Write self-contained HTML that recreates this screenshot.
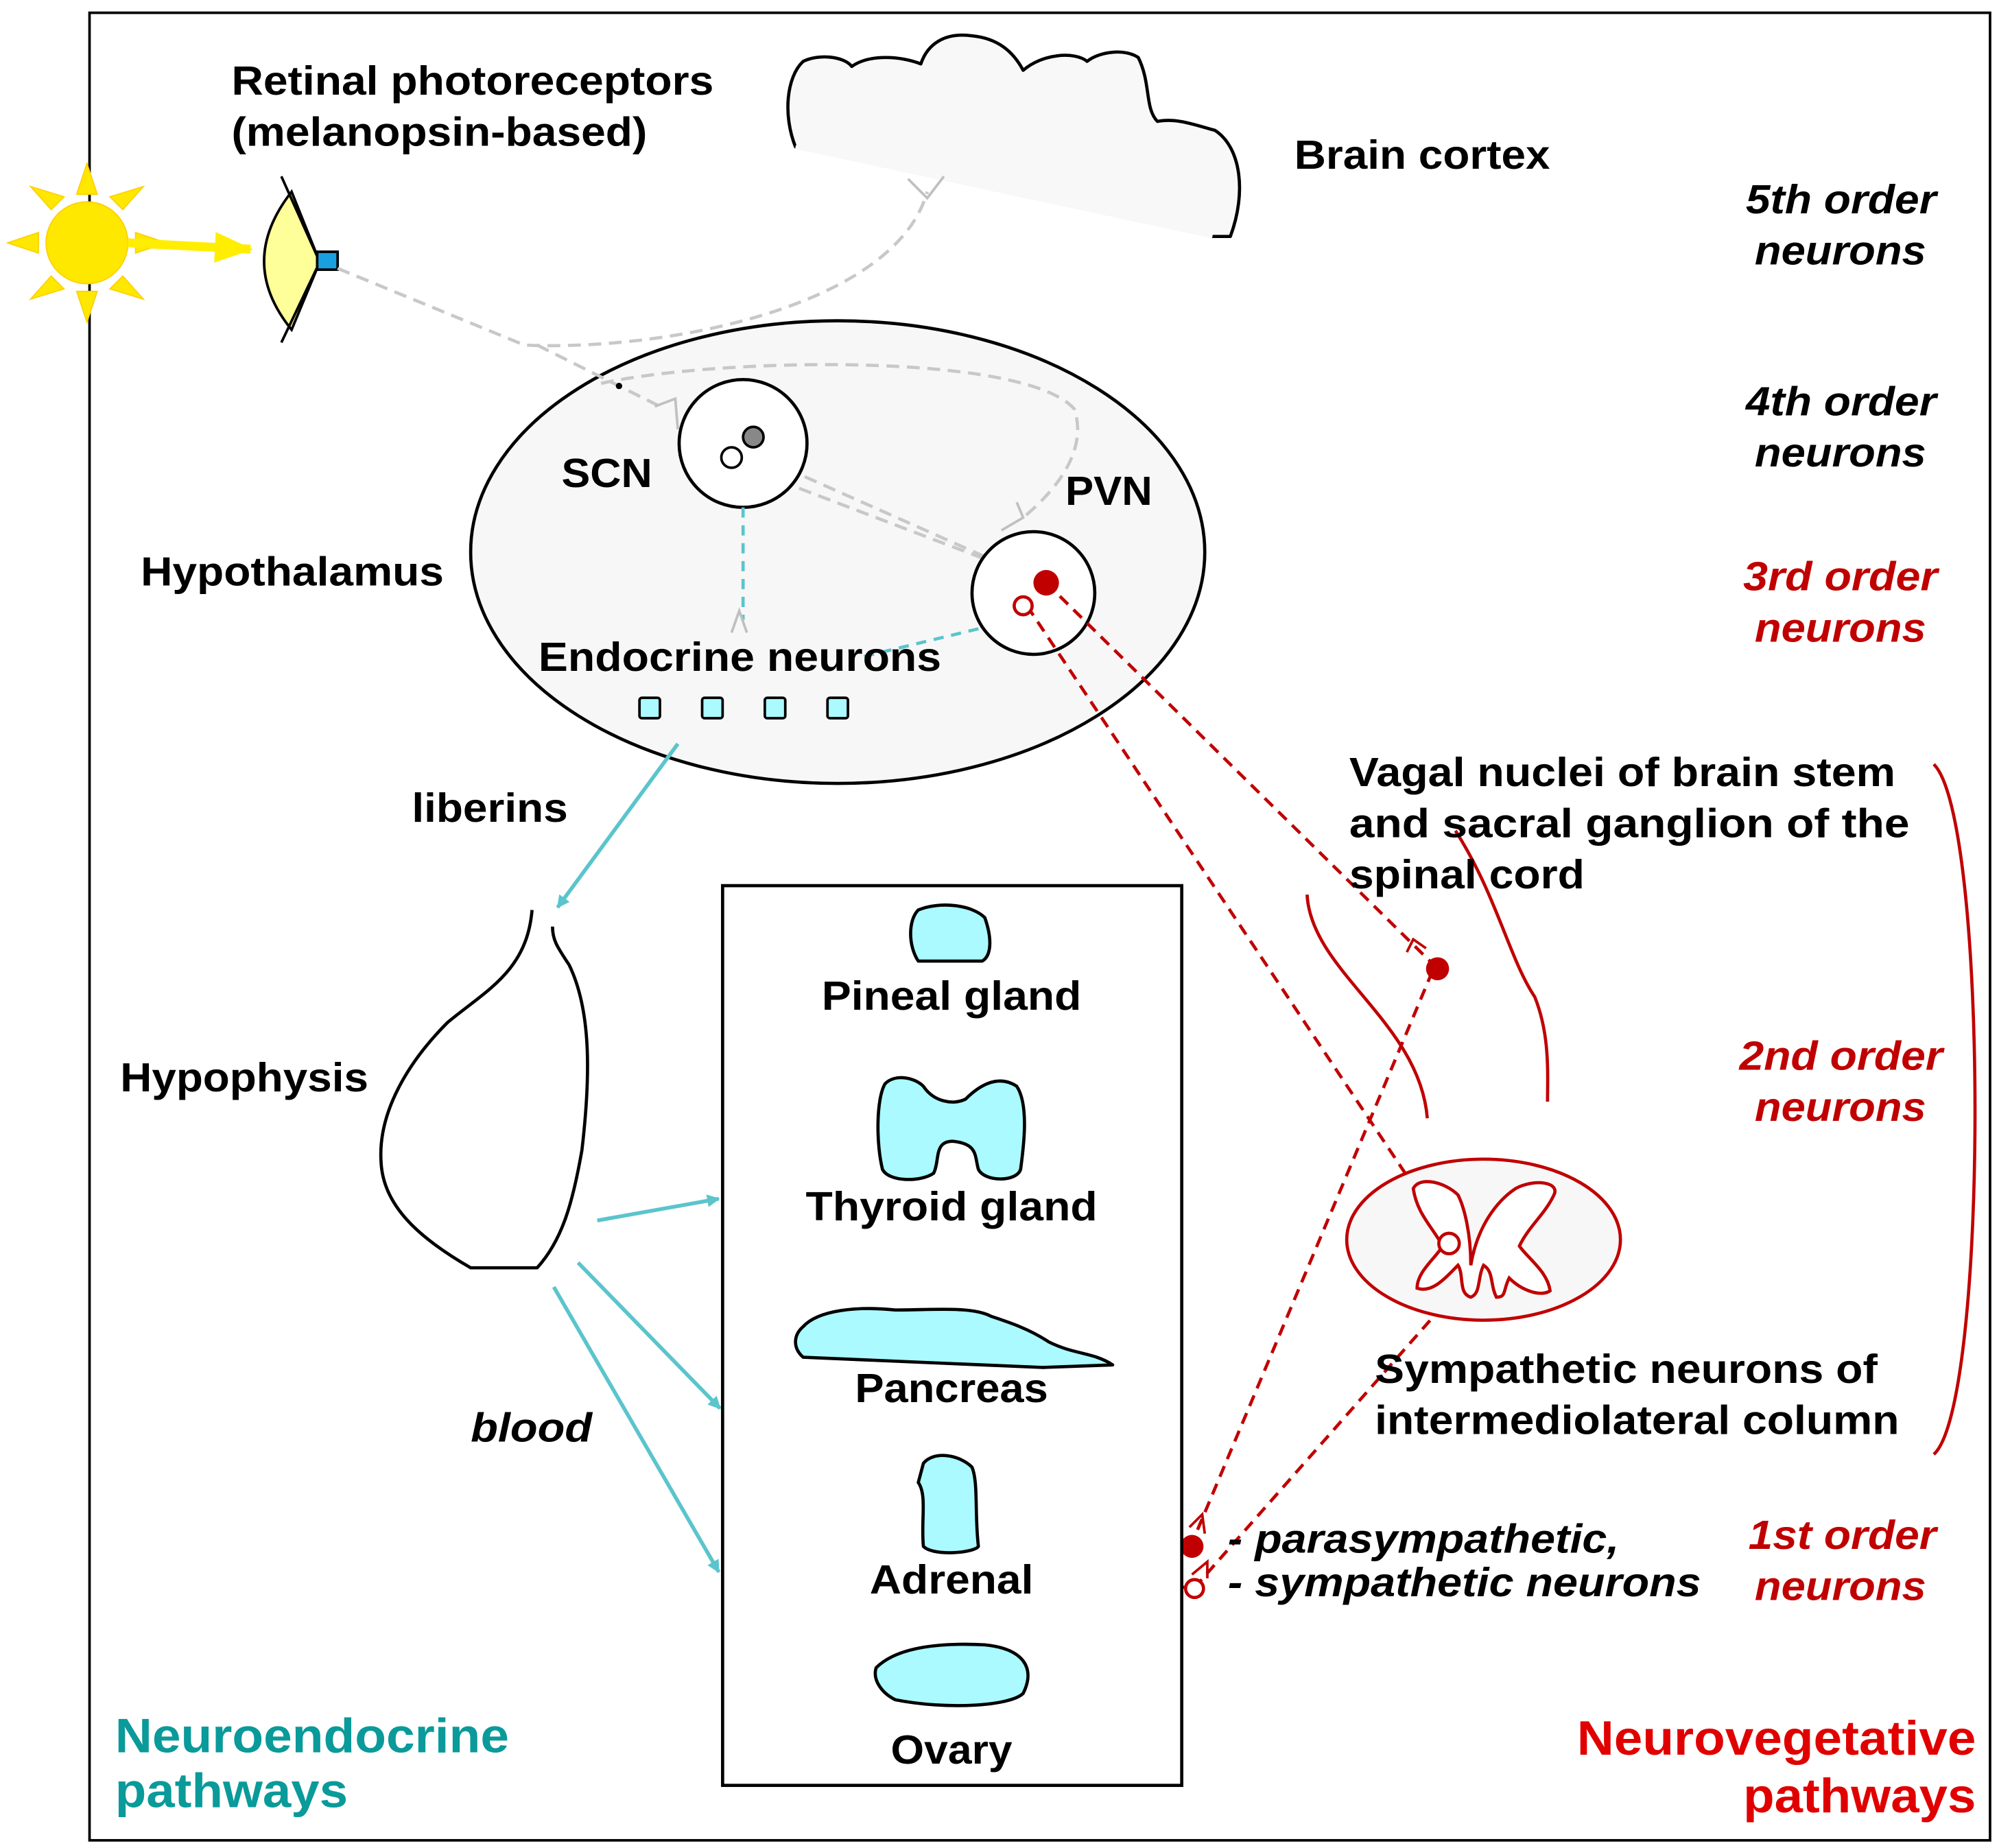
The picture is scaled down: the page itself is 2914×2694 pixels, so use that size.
<!DOCTYPE html>
<html><head><meta charset="utf-8">
<style>
html,body{margin:0;padding:0;background:#fff;}
svg{display:block;}
text{font-family:"Liberation Sans",Arial,sans-serif;font-weight:bold;font-size:32px;}
</style></head>
<body>
<svg width="2914" height="2694" viewBox="0 0 1563 1446" preserveAspectRatio="none" xmlns="http://www.w3.org/2000/svg">
<defs>
<marker id="ac" markerWidth="10" markerHeight="10" refX="9" refY="5" orient="auto" markerUnits="userSpaceOnUse"><path d="M0,0 L10,5 L0,10 z" fill="#5bc4cc"/></marker>
<marker id="ay" markerWidth="30" markerHeight="24" refX="28" refY="12" orient="auto" markerUnits="userSpaceOnUse"><path d="M0,0 L30,12 L0,24 z" fill="#ffee00"/></marker>
</defs>
<rect x="70" y="10" width="1486" height="1430" fill="#fff" stroke="#000" stroke-width="2"/>

<!-- sun -->
<g fill="#ffe800" stroke="#ffd000" stroke-width="1">
<polygon points="68,128 60,152 76,152"/><polygon points="68,252 60,228 76,228"/>
<polygon points="6,190 30,182 30,198"/><polygon points="130,190 106,182 106,198"/>
<polygon points="24,146 40,164 50,154"/><polygon points="112,146 86,154 96,164"/>
<polygon points="24,234 50,226 40,216"/><polygon points="112,234 96,216 86,226"/>
<circle cx="68" cy="190" r="32"/>
</g>
<line x1="100" y1="190" x2="196" y2="195" stroke="#ffee00" stroke-width="7" marker-end="url(#ay)"/>
<!-- eye -->
<path d="M228,150 Q185,205 228,258 L250,205 Z" fill="#ffff99" stroke="#000" stroke-width="2"/>
<line x1="220" y1="138" x2="250" y2="205" stroke="#000" stroke-width="2"/>
<line x1="220" y1="268" x2="250" y2="205" stroke="#000" stroke-width="2"/>
<rect x="248" y="197" width="16" height="14" fill="#1aa0e0" stroke="#000" stroke-width="2"/>
<text x="181" y="74" textLength="377" lengthAdjust="spacingAndGlyphs">Retinal photoreceptors</text>
<text x="181" y="114" textLength="325" lengthAdjust="spacingAndGlyphs">(melanopsin-based)</text>

<!-- brain cortex -->
<path d="M622,115 C612,90 615,60 628,48 C640,42 660,44 666,52 C680,42 705,44 720,50 C725,35 738,25 760,28 C780,30 792,40 800,55 C815,42 840,40 850,48 C860,40 880,38 890,45 C900,65 895,85 905,95 C920,92 935,98 950,102 C970,115 975,150 962,185 L948,185 Z" fill="#f8f8f8" stroke="#000" stroke-width="2.5" stroke-linejoin="round"/>
<path d="M622,115 L948,185" stroke="#f8f8f8" stroke-width="3"/>
<text x="1012" y="132" textLength="200" lengthAdjust="spacingAndGlyphs">Brain cortex</text>

<!-- right order labels -->
<g font-style="italic">
<text x="1365" y="167" textLength="149" lengthAdjust="spacingAndGlyphs">5th order</text><text x="1372" y="207" textLength="134" lengthAdjust="spacingAndGlyphs">neurons</text>
<text x="1365" y="325" textLength="149" lengthAdjust="spacingAndGlyphs">4th order</text><text x="1372" y="365" textLength="134" lengthAdjust="spacingAndGlyphs">neurons</text>
<text x="1363" y="462" fill="#c00000" textLength="152" lengthAdjust="spacingAndGlyphs">3rd order</text><text x="1372" y="502" fill="#c00000" textLength="134" lengthAdjust="spacingAndGlyphs">neurons</text>
<text x="1360" y="837" fill="#c00000" textLength="159" lengthAdjust="spacingAndGlyphs">2nd order</text><text x="1372" y="877" fill="#c00000" textLength="134" lengthAdjust="spacingAndGlyphs">neurons</text>
<text x="1367" y="1212" fill="#c00000" textLength="147" lengthAdjust="spacingAndGlyphs">1st order</text><text x="1372" y="1252" fill="#c00000" textLength="134" lengthAdjust="spacingAndGlyphs">neurons</text>
</g>

<!-- hypothalamus -->
<ellipse cx="655" cy="432" rx="287" ry="181" fill="#f7f7f7" stroke="#000" stroke-width="2.5"/>
<g fill="none" stroke="#c8c8c8" stroke-width="2.5" stroke-dasharray="10,6">
<path d="M264,210 L410,270 C520,275 700,240 725,150"/>
<path d="M420,270 L520,320"/>
<path d="M470,300 C560,280 800,275 840,320 C850,350 830,380 800,405"/>
<path d="M580,365 L790,445"/>
<path d="M600,360 L780,440"/>
</g>
<g fill="none" stroke="#c0c0c0" stroke-width="2">
<path d="M512,318 L528,312 L530,336"/><path d="M710,140 L725,155 L738,138"/>
<path d="M770,445 L795,440 L775,430"/><path d="M783,415 L800,405 L795,393"/>
</g>
<circle cx="484" cy="302" r="2.5" fill="#000"/>
<circle cx="581" cy="347" r="50" fill="#fff" stroke="#000" stroke-width="2.5"/>
<circle cx="589" cy="342" r="8" fill="#888" stroke="#000" stroke-width="2"/>
<circle cx="572" cy="358" r="8" fill="#fff" stroke="#000" stroke-width="2"/>
<circle cx="808" cy="464" r="48" fill="#fff" stroke="#000" stroke-width="2.5"/>
<g fill="none" stroke="#5bc4cc" stroke-width="2.5" stroke-dasharray="8,6">
<line x1="581" y1="397" x2="581" y2="485"/>
<line x1="765" y1="492" x2="670" y2="515"/>
</g>
<path d="M572,495 L578,478 L584,495" fill="none" stroke="#c0c0c0" stroke-width="2"/>
<text x="439" y="381" textLength="71" lengthAdjust="spacingAndGlyphs">SCN</text>
<text x="833" y="395" textLength="68" lengthAdjust="spacingAndGlyphs">PVN</text>
<text x="110" y="458" textLength="237" lengthAdjust="spacingAndGlyphs">Hypothalamus</text>
<text x="421" y="525" textLength="315" lengthAdjust="spacingAndGlyphs">Endocrine neurons</text>
<g fill="#aafaff" stroke="#000" stroke-width="2">
<rect x="500" y="546" width="16" height="16" rx="2"/><rect x="549" y="546" width="16" height="16" rx="2"/>
<rect x="598" y="546" width="16" height="16" rx="2"/><rect x="647" y="546" width="16" height="16" rx="2"/>
</g>

<!-- red neurovegetative -->
<g fill="none" stroke="#c00000" stroke-width="2.5" stroke-dasharray="9,6">
<line x1="818" y1="456" x2="1118" y2="752"/>
<line x1="803" y1="474" x2="1128" y2="962"/>
<line x1="1120" y1="760" x2="933" y2="1205"/>
<line x1="1128" y1="1022" x2="936" y2="1240"/>
</g>
<circle cx="818" cy="456" r="10" fill="#c00000"/>
<circle cx="800" cy="474" r="7" fill="#fff" stroke="#c00000" stroke-width="2.5"/>
<circle cx="1124" cy="758" r="9" fill="#c00000"/>
<path d="M1100,745 L1105,735 L1115,742" fill="none" stroke="#c00000" stroke-width="2"/>
<g fill="none" stroke="#c00000" stroke-width="2.5">
<path d="M1022,700 C1025,760 1110,800 1116,875"/>
<path d="M1138,650 C1170,700 1180,750 1200,780 C1212,810 1210,840 1210,862"/>
<path d="M1512,598 C1555,640 1555,1100 1512,1138"/>
<line x1="893" y1="1210" x2="930" y2="1210"/>
<line x1="893" y1="1242" x2="930" y2="1242"/>
</g>
<ellipse cx="1160" cy="970" rx="107" ry="63" fill="#f7f7f7" stroke="#c00000" stroke-width="2.5"/>
<path d="M1105,930 C1110,920 1130,925 1140,935 C1145,945 1150,965 1150,990 C1155,960 1170,940 1185,930 C1200,922 1220,925 1215,935 C1208,950 1195,960 1188,975 C1195,985 1210,995 1212,1010 C1205,1015 1190,1010 1180,1000 C1175,1010 1178,1015 1170,1015 C1165,1005 1168,995 1160,990 C1155,1000 1158,1012 1150,1015 C1140,1012 1145,998 1140,990 C1130,1000 1120,1012 1108,1008 C1108,995 1122,985 1128,975 C1120,960 1108,950 1105,930 Z" fill="#fff" stroke="#c00000" stroke-width="2.5"/>
<circle cx="1133" cy="973" r="8" fill="#fff" stroke="#c00000" stroke-width="2.5"/>
<circle cx="932" cy="1210" r="9" fill="#c00000"/>
<circle cx="934" cy="1243" r="7" fill="#fff" stroke="#c00000" stroke-width="2.5"/>
<path d="M930,1195 L940,1185 L942,1200" fill="none" stroke="#c00000" stroke-width="2"/>
<path d="M932,1232 L944,1222 L944,1235" fill="none" stroke="#c00000" stroke-width="2"/>
<text x="1055" y="615" textLength="427" lengthAdjust="spacingAndGlyphs">Vagal nuclei of brain stem</text>
<text x="1055" y="655" textLength="438" lengthAdjust="spacingAndGlyphs">and  sacral ganglion of the</text>
<text x="1055" y="695" textLength="184" lengthAdjust="spacingAndGlyphs">spinal cord</text>
<text x="1075" y="1082" textLength="393" lengthAdjust="spacingAndGlyphs">Sympathetic neurons of</text>
<text x="1075" y="1122" textLength="410" lengthAdjust="spacingAndGlyphs">intermediolateral column</text>
<text x="960" y="1215" font-style="italic" textLength="306" lengthAdjust="spacingAndGlyphs">- parasympathetic,</text>
<text x="960" y="1249" font-style="italic" textLength="370" lengthAdjust="spacingAndGlyphs">- sympathetic neurons</text>

<!-- liberins / hypophysis -->
<text x="322" y="643" textLength="122" lengthAdjust="spacingAndGlyphs">liberins</text>
<line x1="530" y1="582" x2="436" y2="710" stroke="#5bc4cc" stroke-width="3" marker-end="url(#ac)"/>
<path d="M416,712 C412,760 380,775 350,800 C320,830 295,870 298,910 C300,945 330,970 368,992 L420,992 C440,970 448,940 455,900 C462,840 462,790 445,755 C435,740 432,735 432,725" fill="none" stroke="#000" stroke-width="2.5"/>
<text x="94" y="854" textLength="194" lengthAdjust="spacingAndGlyphs">Hypophysis</text>
<text x="368" y="1128" font-style="italic" textLength="95" lengthAdjust="spacingAndGlyphs">blood</text>
<g stroke="#5bc4cc" stroke-width="3" marker-end="url(#ac)">
<line x1="467" y1="955" x2="562" y2="938"/>
<line x1="452" y1="988" x2="563" y2="1102"/>
<line x1="433" y1="1007" x2="562" y2="1230"/>
</g>

<!-- glands box -->
<rect x="565" y="693" width="359" height="704" fill="#fff" stroke="#000" stroke-width="2.5"/>
<g fill="#aafaff" stroke="#000" stroke-width="2.5" stroke-linejoin="round">
<path d="M718,712 C735,705 760,708 770,718 C776,735 775,748 768,752 L718,752 C710,740 710,720 718,712 Z"/>
<path d="M692,848 C700,840 715,843 722,850 C730,862 745,865 755,860 C765,850 780,840 795,850 C805,865 800,900 798,915 C795,925 770,925 765,915 C762,905 765,895 745,893 C730,893 735,908 730,918 C720,925 695,925 690,915 C685,895 685,860 692,848 Z"/>
<path d="M628,1038 C640,1025 670,1022 700,1025 C730,1025 760,1022 775,1030 C790,1035 805,1040 820,1050 C840,1060 855,1058 870,1068 L815,1070 C760,1068 700,1065 628,1062 C620,1055 620,1045 628,1038 Z"/>
<path d="M722,1145 C730,1135 750,1138 760,1148 C765,1160 762,1185 765,1210 C762,1215 730,1218 722,1210 C720,1190 725,1170 718,1160 Z"/>
<path d="M685,1305 C700,1290 730,1285 770,1287 C800,1290 810,1305 800,1325 C790,1335 740,1338 700,1330 C690,1325 682,1315 685,1305 Z"/>
</g>
<g text-anchor="middle">
<text x="744" y="790" textLength="203" lengthAdjust="spacingAndGlyphs">Pineal gland</text>
<text x="744" y="955" textLength="228" lengthAdjust="spacingAndGlyphs">Thyroid gland</text>
<text x="744" y="1097" textLength="151" lengthAdjust="spacingAndGlyphs">Pancreas</text>
<text x="744" y="1247" textLength="128" lengthAdjust="spacingAndGlyphs">Adrenal</text>
<text x="744" y="1380" textLength="95" lengthAdjust="spacingAndGlyphs">Ovary</text>
</g>

<text x="90" y="1371" style="font-size:38px" fill="#0a9a9a" textLength="308" lengthAdjust="spacingAndGlyphs">Neuroendocrine</text>
<text x="90" y="1414" style="font-size:38px" fill="#0a9a9a" textLength="182" lengthAdjust="spacingAndGlyphs">pathways</text>
<text x="1233" y="1373" style="font-size:38px" fill="#e00000" textLength="312" lengthAdjust="spacingAndGlyphs">Neurovegetative</text>
<text x="1363" y="1418" style="font-size:38px" fill="#e00000" textLength="182" lengthAdjust="spacingAndGlyphs">pathways</text>
</svg>
</body></html>
